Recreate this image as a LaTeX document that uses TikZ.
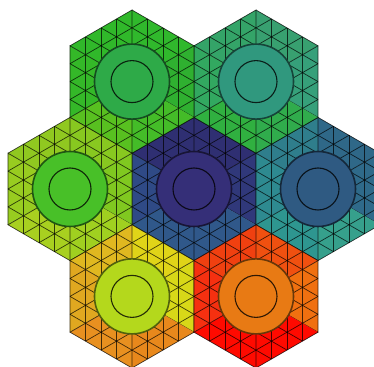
\documentclass[tikz,border=0pt]{standalone}
\usepackage{tikz}
\usetikzlibrary{calc}

% sector colours, 0 = right, then counter-clockwise
\definecolor{hexC0}{HTML}{30387A}
\definecolor{hexC1}{HTML}{2F2F72}
\definecolor{hexC2}{HTML}{2F2F72}
\definecolor{hexC3}{HTML}{2F4A86}
\definecolor{hexC4}{HTML}{30588A}
\definecolor{hexC5}{HTML}{30588A}
\definecolor{hexR0}{HTML}{2F6A8A}
\definecolor{hexR1}{HTML}{2F6888}
\definecolor{hexR2}{HTML}{2F7E8C}
\definecolor{hexR3}{HTML}{2E8A90}
\definecolor{hexR4}{HTML}{2E9690}
\definecolor{hexR5}{HTML}{36A08C}
\definecolor{hexTR0}{HTML}{36A07A}
\definecolor{hexTR1}{HTML}{38A070}
\definecolor{hexTR2}{HTML}{34A468}
\definecolor{hexTR3}{HTML}{32A860}
\definecolor{hexTR4}{HTML}{30B040}
\definecolor{hexTR5}{HTML}{30AC4C}
\definecolor{hexTL0}{HTML}{2FB030}
\definecolor{hexTL1}{HTML}{30B82C}
\definecolor{hexTL2}{HTML}{30B82A}
\definecolor{hexTL3}{HTML}{34B828}
\definecolor{hexTL4}{HTML}{58C020}
\definecolor{hexTL5}{HTML}{44BC28}
\definecolor{hexL0}{HTML}{80C820}
\definecolor{hexL1}{HTML}{88C820}
\definecolor{hexL2}{HTML}{90C820}
\definecolor{hexL3}{HTML}{98CC20}
\definecolor{hexL4}{HTML}{A8D020}
\definecolor{hexL5}{HTML}{A0D020}
\definecolor{hexBL0}{HTML}{D8D818}
\definecolor{hexBL1}{HTML}{E0D418}
\definecolor{hexBL2}{HTML}{E0B820}
\definecolor{hexBL3}{HTML}{E0A820}
\definecolor{hexBL4}{HTML}{E89020}
\definecolor{hexBL5}{HTML}{E8881C}
\definecolor{hexBR0}{HTML}{F07010}
\definecolor{hexBR1}{HTML}{F05010}
\definecolor{hexBR2}{HTML}{F04010}
\definecolor{hexBR3}{HTML}{F53010}
\definecolor{hexBR4}{HTML}{FF0A00}
\definecolor{hexBR5}{HTML}{FF0A00}
% pin colours
\definecolor{pinC}{HTML}{352F78}
\definecolor{pinR}{HTML}{2F5A82}
\definecolor{pinTR}{HTML}{30987E}
\definecolor{pinTL}{HTML}{2EAA48}
\definecolor{pinL}{HTML}{48C028}
\definecolor{pinBL}{HTML}{B4D81C}
\definecolor{pinBR}{HTML}{E87A14}

\tikzset{
  meshline/.style={draw=black, draw opacity=0.72, line width=0.7pt},
  pinouter/.style={line width=1.6pt},
  pininner/.style={line width=1.1pt}
}

\begin{document}
\begin{tikzpicture}[x=1pt,y=1pt]
    \def\R{71.6}
    \useasboundingbox (0,0) rectangle (374,366);
    \clip (0,0) rectangle (374,366);

    % assemblies: filled sectors and triangle mesh
    \foreach \hx/\hy/\hn in {194/177/C, 318/177/R, 256/284.4/TR, 132/284.4/TL,
                             70/177/L, 132/69.6/BL, 256/69.6/BR}{
      \foreach \k in {0,...,5}{
        \coordinate (o) at (\hx,\hy);
        \coordinate (p) at ($(o)+({60*\k-30}:\R)$);
        \coordinate (q) at ($(o)+({60*\k+30}:\R)$);
        \fill[hex\hn\k] (o) -- (p) -- (q) -- cycle;
        \draw[meshline] (o) -- (p) -- (q);
        \foreach \t in {0.25,0.5,0.75}{
          \draw[meshline] ($(o)!\t!(p)$) -- ($(o)!\t!(q)$);
          \draw[meshline] ($(p)!\t!(o)$) -- ($(p)!\t!(q)$);
          \draw[meshline] ($(q)!\t!(o)$) -- ($(q)!\t!(p)$);
        }
      }
    }

    % pins
    \foreach \hx/\hy/\hn in {194/177/C, 318/177/R, 256/284.4/TR, 132/284.4/TL,
                             70/177/L, 132/69.6/BL, 256/69.6/BR}{
      \filldraw[pinouter, fill=pin\hn, draw=pin\hn!45!black] (\hx,\hy) circle (37.5);
      \draw[pininner, draw=pin\hn!20!black] (\hx,\hy) circle (21);
    }
\end{tikzpicture}
\end{document}
